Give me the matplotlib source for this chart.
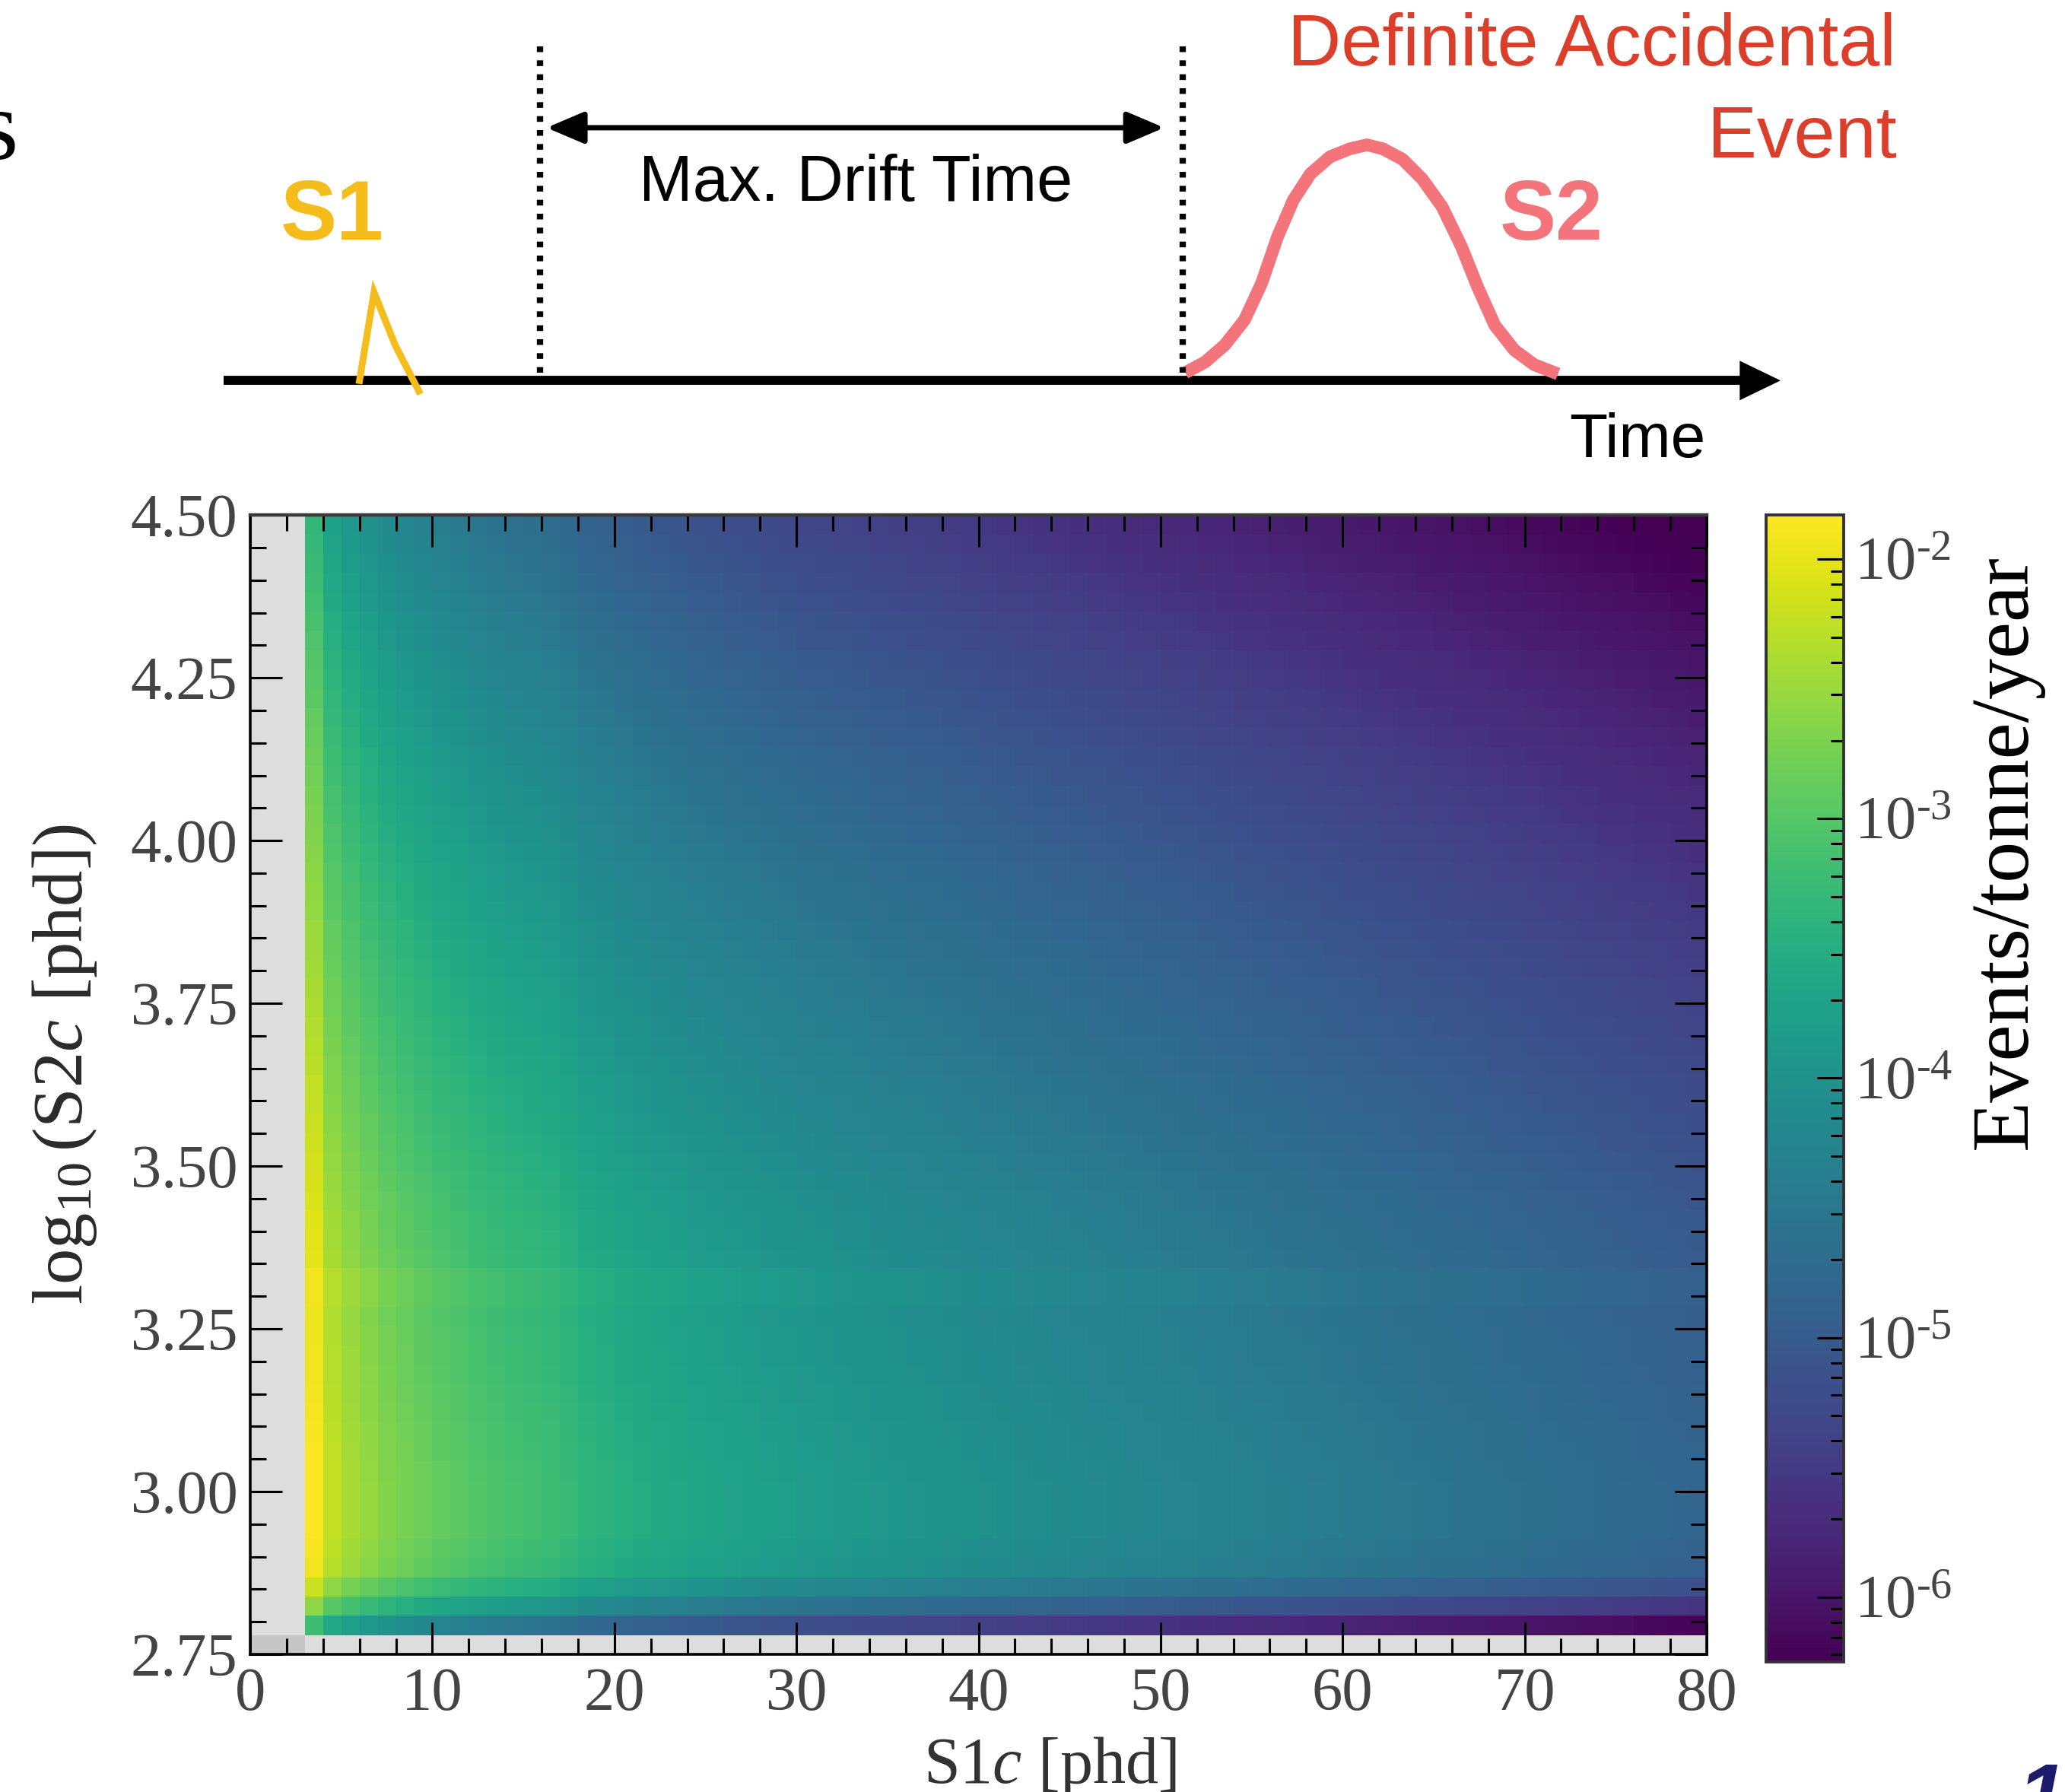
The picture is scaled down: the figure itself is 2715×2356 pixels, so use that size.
import numpy as np
import matplotlib
matplotlib.use("Agg")
import matplotlib.pyplot as plt
from matplotlib.colors import LogNorm
from matplotlib.ticker import MultipleLocator, LogLocator, FixedLocator, FixedFormatter, NullFormatter
from matplotlib.patches import Polygon

plt.rcParams["font.family"] = ["Liberation Serif", "DejaVu Serif"]
plt.rcParams["mathtext.fontset"] = "custom"
plt.rcParams["mathtext.rm"] = "Liberation Serif"
plt.rcParams["mathtext.it"] = "Liberation Serif:italic"
plt.rcParams["mathtext.bf"] = "Liberation Serif:bold"

# ---- accidental coincidence rate map ----
# S1c bins of 1 phd, bins below 3 phd are cut (grey)
s1_edges = np.arange(3, 81)
# log10(rate) along S1c, read at the brightest S2 row
s1_log_rate = [
    -1.83, -2.23, -2.40, -2.53, -2.65, -2.73, -2.82, -2.89, -2.95, -3.02,
    -3.08, -3.12, -3.16, -3.20, -3.28, -3.37, -3.42, -3.47, -3.52, -3.56,
    -3.60, -3.64, -3.67, -3.70, -3.73, -3.76, -3.79, -3.82, -3.84, -3.86,
    -3.88, -3.91, -3.93, -3.95, -3.97, -3.99, -4.02, -4.04, -4.06, -4.08,
    -4.10, -4.12, -4.14, -4.16, -4.18, -4.20, -4.22, -4.24, -4.26, -4.28,
    -4.30, -4.32, -4.34, -4.36, -4.38, -4.40, -4.42, -4.44, -4.46, -4.48,
    -4.50, -4.52, -4.54, -4.56, -4.58, -4.60, -4.62, -4.64, -4.66, -4.68,
    -4.70, -4.72, -4.74, -4.76, -4.78, -4.80, -4.82,
]
# log10(S2c) bins, first bin (2.75-2.78) is cut (grey)
s2_edges = np.linspace(2.75, 4.50, 60)[1:]
# log10 offset of the rate per S2 row, bottom to top
s2_log_offset = [
    -1.37, -0.75, -0.35, -0.09, -0.04, 0.00, 0.00, 0.00, -0.01, -0.03,
    -0.04, -0.06, -0.07, -0.09, -0.10, -0.11, -0.13, -0.09, -0.09, -0.18,
    -0.20, -0.22, -0.25, -0.28, -0.31, -0.34, -0.37, -0.40, -0.43, -0.46,
    -0.49, -0.52, -0.55, -0.58, -0.61, -0.64, -0.67, -0.71, -0.74, -0.77,
    -0.81, -0.84, -0.88, -0.91, -0.95, -0.99, -1.03, -1.07, -1.11, -1.15,
    -1.19, -1.24, -1.28, -1.33, -1.37, -1.42, -1.46, -1.50,
]
rate_min, rate_max = 10 ** -6.25, 10 ** -1.83
cbar_ticks = [1e-6, 1e-5, 1e-4, 1e-3, 1e-2]
cbar_labels = [r"10$^{\text{-}6}$", r"10$^{\text{-}5}$", r"10$^{\text{-}4}$",
               r"10$^{\text{-}3}$", r"10$^{\text{-}2}$"]

# ---- schematic (coordinates in a 1568 x 1361 canvas) ----
time_axis_x = [170, 1324]
time_axis_y = 289
s1_pulse_x = [273, 284, 300, 318]
s1_pulse_y = [289, 222, 262, 297]
s2_pulse_x = [900, 915, 930, 945, 958, 970, 982, 995, 1010, 1025, 1038,
              1050, 1065, 1080, 1095, 1110, 1122, 1135, 1150, 1165, 1183]
s2_pulse_y = [283, 275, 262, 243, 215, 180, 152, 132, 119, 113, 110,
              113, 121, 136, 157, 188, 218, 247, 266, 277, 284]
drift_lines_x = [410, 898]

rate = 10 ** (np.array(s2_log_offset)[:, None] + np.array(s1_log_rate)[None, :])

fig = plt.figure(figsize=(27.15, 23.56), dpi=100)

# schematic layer
axd = fig.add_axes([0, 0, 1, 1])
axd.set_xlim(0, 1568)
axd.set_ylim(1361, 0)
axd.axis("off")
axd.patch.set_alpha(0)

axd.plot(time_axis_x, [time_axis_y] * 2, color="black", lw=8.5, solid_capstyle="butt")
axd.add_patch(Polygon([(1321, 274), (1352, 289), (1321, 304)], closed=True,
                      color="black", lw=0))
axd.plot(s1_pulse_x, s1_pulse_y, color="#f4bd1c", lw=6.5, solid_joinstyle="miter")
axd.plot(s2_pulse_x, s2_pulse_y, color="#f4747b", lw=12, solid_capstyle="butt",
         solid_joinstyle="round")
for xd in drift_lines_x:
    axd.plot([xd, xd], [35, 283], color="black", lw=6, linestyle=(0, (0.9, 1.3)),
             dash_capstyle="butt")
axd.annotate("", xy=(415, 97), xytext=(884, 97),
             arrowprops=dict(arrowstyle="<|-|>,head_length=0.4,head_width=0.17",
                             lw=5, color="black", mutation_scale=75,
                             shrinkA=0, shrinkB=0))
axd.text(650, 140, "Max. Drift Time", fontsize=61, family="Liberation Sans",
         ha="center", va="center", color="black")
axd.text(252, 165, "S1", fontsize=80, family="Liberation Sans", weight="bold",
         ha="center", va="center", color="#f4bd1c")
axd.text(1178, 165, "S2", fontsize=80, family="Liberation Sans", weight="bold",
         ha="center", va="center", color="#f4747b")
axd.text(1440, 35, "Definite Accidental", fontsize=70, family="Liberation Sans",
         ha="right", va="center", color="#db3f2c")
axd.text(1440, 105, "Event", fontsize=70, family="Liberation Sans",
         ha="right", va="center", color="#db3f2c")
axd.text(1243, 335, "Time", fontsize=59, family="Liberation Sans",
         ha="center", va="center", color="black")
axd.text(-1, 121, "s", fontsize=95, family="Liberation Serif", ha="center",
         va="baseline", color="black")
axd.text(1532, 1338, "10", fontsize=82, family="Liberation Sans", weight="bold",
         style="italic", ha="left", va="top", color="#1b1a6b")

# heat map
ax = fig.add_axes([0.1212, 0.0768, 0.7053, 0.6358])
norm = LogNorm(vmin=rate_min, vmax=rate_max)
mesh = ax.pcolormesh(s1_edges, s2_edges, rate, cmap="viridis", norm=norm,
                     shading="flat", zorder=1)
ax.axvspan(0, 3, color="0.6", alpha=0.33, lw=0, zorder=0.5)
ax.axhspan(2.75, s2_edges[0], color="0.6", alpha=0.33, lw=0, zorder=0.5)
ax.set_xlim(0, 80)
ax.set_ylim(2.75, 4.50)

ax.xaxis.set_major_locator(MultipleLocator(10))
ax.xaxis.set_minor_locator(MultipleLocator(2))
ax.yaxis.set_major_locator(MultipleLocator(0.25))
ax.yaxis.set_minor_locator(MultipleLocator(0.05))
ax.yaxis.set_major_formatter(matplotlib.ticker.FormatStrFormatter("%.2f"))
ax.tick_params(which="both", direction="in", top=True, right=True,
               color="black", labelcolor="#444444", labelsize=58, width=2.2,
               pad=12, zorder=5)
ax.tick_params(which="major", length=30)
ax.tick_params(which="minor", length=15)
for side in ["left", "bottom", "right"]:
    ax.spines[side].set_linewidth(2.6)
    ax.spines[side].set_color("black")
ax.spines["top"].set_linewidth(3.2)
ax.spines["top"].set_color("#3a3a3a")
for sp in ax.spines.values():
    sp.set_zorder(6)

ax.set_xlabel(r"S1$c$ [phd]", fontsize=62, color="#333333", va="top",
              family="Liberation Serif")
ax.xaxis.set_label_coords(0.549, -0.071)
ax.set_ylabel(r"$\log_{10}$(S2$c$ [phd])", fontsize=68, color="#2a2a2a",
              family="Liberation Serif")
ax.yaxis.set_label_coords(-0.104, 0.518)

# colour bar
cax = fig.add_axes([0.8552, 0.0726, 0.0376, 0.640])
cbar = fig.colorbar(mesh, cax=cax)
cbar.outline.set_linewidth(2.8)
cbar.outline.set_edgecolor("#333333")
cax.yaxis.set_major_locator(FixedLocator(cbar_ticks))
cax.yaxis.set_major_formatter(FixedFormatter(cbar_labels))
cax.yaxis.set_minor_locator(LogLocator(base=10, subs=np.arange(2, 10)))
cax.yaxis.set_minor_formatter(NullFormatter())
cax.tick_params(which="both", direction="in", right=True, color="black",
                labelcolor="#444444", labelsize=58, width=2.2, pad=10)
cax.tick_params(which="major", length=25)
cax.tick_params(which="minor", length=12)
cax.set_ylabel("Events/tonne/year", fontsize=78, color="black", rotation=90,
               family="Liberation Serif")
cax.yaxis.set_label_coords(2.62, 0.706)
cax.yaxis.label.set_verticalalignment("top")

fig.savefig("out.png", dpi=100)
